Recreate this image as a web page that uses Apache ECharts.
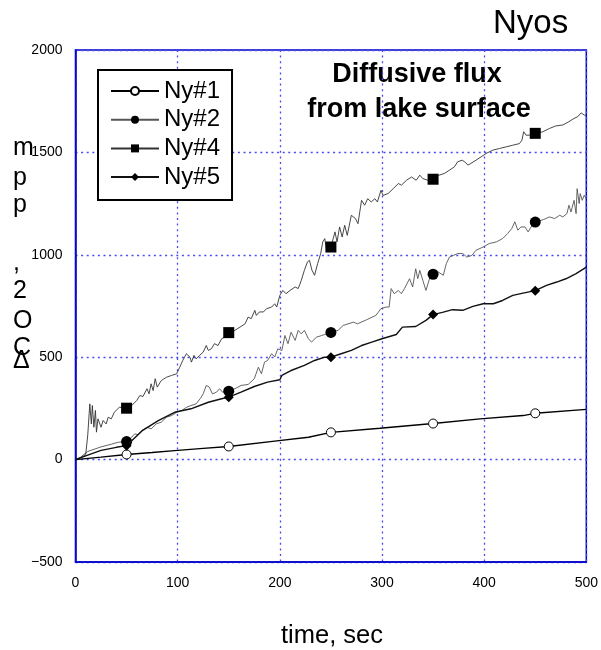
<!DOCTYPE html>
<html>
<head>
<meta charset="utf-8">
<script src="https://cdn.jsdelivr.net/npm/echarts@6/dist/echarts.min.js"></script>
<style>
  html, body { margin: 0; padding: 0; background: #fff; }
  #main { width: 601px; height: 650px; }
</style>
</head>
<body>
<div id="main"></div>
<script>
// marker positions (sec) and the four runs, [time, dCO2 ppm]
var markerTimes = [50, 150, 250, 350, 450];
var yTicks = [-500, 0, 500, 1000, 1500, 2000];

var ny1 = [[0,0],[10,5],[25,12],[50,25],[75,35],[97,44],[125,55],[150,64],[195,90],[228,109],[250,133],
  [298,153],[350,176],[396,199],[438,215],[450,226],[500,245]];

var ny2 = [[0,0],[5,12],[12,40],[25,62],[35,75],[42,85],[50,88],[55,109],[58,126],[61,122],[65,142],[70,158],
  [74,150],[79,174],[84,183],[89,207],[94,215],[99,231],[104,240],[109,256],[113,264],[118,272],[122,297],
  [125,321],[128,362],[131,354],[134,321],[138,329],[141,346],[144,329],[150,334],[156,346],[162,362],
  [169,367],[175,395],[179,451],[182,419],[185,476],[188,484],[192,517],[195,501],[198,541],[202,533],
  [205,606],[208,566],[211,622],[215,582],[218,631],[221,614],[224,631],[228,590],[231,574],[236,598],
  [241,606],[244,611],[250,621],[257,631],[262,655],[272,671],[276,663],[285,683],[294,704],[299,737],
  [304,745],[307,745],[309,835],[312,810],[316,826],[319,810],[322,835],[327,883],[330,843],[333,932],
  [335,883],[337,924],[340,875],[343,826],[347,891],[350,905],[355,916],[360,900],[363,957],[366,989],
  [370,997],[374,1006],[379,1006],[383,989],[388,997],[392,1022],[399,1038],[405,1055],[412,1063],
  [418,1079],[423,1104],[427,1128],[430,1161],[433,1120],[436,1136],[440,1136],[443,1112],[446,1136],
  [450,1160],[458,1172],[464,1185],[469,1177],[474,1193],[477,1185],[481,1201],[483,1242],[485,1209],
  [488,1266],[490,1201],[491,1323],[493,1250],[494,1299],[496,1266],[498,1291],[500,1274]];

var ny4 = [[0,0],[5,8],[10,25],[12,120],[14,272],[15.5,174],[16.5,264],[18,158],[19.5,240],[20.5,134],
  [22,199],[25,158],[27,191],[30,174],[32,207],[35,199],[38,231],[43,256],[50,251],[55,264],[60,289],
  [63,313],[66,308],[70,346],[72,321],[74,370],[76,337],[78,395],[80,354],[84,386],[89,402],[94,411],
  [99,419],[102,451],[105,484],[108.5,517],[112,500],[113.5,476],[116,509],[118,492],[121.5,509],
  [125,525],[128,557],[130,533],[133,541],[136,566],[139.5,557],[143,590],[146,598],[150,620],[156,631],
  [161,647],[166,663],[169,696],[172,688],[175.5,729],[177,704],[180,721],[184,721],[187,737],[192,745],
  [195,761],[197,745],[200,802],[203,826],[206,810],[210,826],[215,843],[218,835],[221,875],[224,924],
  [227,965],[229,973],[231.5,924],[234,900],[237,957],[240,1006],[242,1063],[244,1079],[245.5,1030],
  [250,1038],[254,1112],[256,1063],[258.5,1136],[261,1087],[263.5,1144],[266,1095],[270,1193],
  [274,1177],[276.5,1152],[280,1266],[283,1242],[286,1274],[289.5,1258],[293,1274],[295.5,1258],
  [299,1315],[301,1290],[306,1299],[311,1323],[316,1348],[319,1340],[324,1364],[329,1380],[333.5,1364],
  [337,1389],[340,1372],[345,1364],[350,1369],[356,1389],[361,1397],[366,1413],[371,1430],[374,1454],
  [378.5,1462],[381,1454],[384,1438],[387,1446],[392,1462],[397,1478],[402,1495],[408.5,1511],
  [415,1519],[421.5,1527],[428,1535],[434.5,1543],[437,1560],[438.7,1601],[441,1584],[444,1584],
  [450,1593],[457,1600],[464,1617],[470,1629],[477,1634],[483,1650],[488,1666],[491.5,1674],
  [495,1693],[498,1682],[500,1682]];

var ny5 = [[0,0],[10,18],[25,45],[40,60],[50,68],[55,92],[65,140],[81,190],[97,231],[113,248],[130,280],
  [143,297],[150,305],[162,329],[175,357],[188,378],[200,390],[202,411],[208,427],[211,435],[224,460],
  [234,484],[244,500],[250,500],[260,517],[270,533],[280,557],[290,574],[300,590],[314,611],[320,647],
  [333,650],[343,680],[350,708],[360,720],[369,732],[379,729],[389,748],[399,761],[409,761],[418,777],
  [428,802],[438,813],[450,825],[461,851],[471,867],[480,883],[490,908],[500,940]];

var seriesNames = ['Ny#1', 'Ny#2', 'Ny#4', 'Ny#5'];

// only the marker times get a symbol, the rest of the trace is plain line
function withMarkers(arr) {
  return arr.map(function (p) {
    if (markerTimes.indexOf(p[0]) >= 0) return { value: p };
    return { value: p, symbol: 'none' };
  });
}

var chart = echarts.init(document.getElementById('main'));
var font = '"Liberation Sans", Arial, sans-serif';
var gridBlue = '#4a4af0';
var frameBlue = '#0000cc';

function label(txt, x, y, size, opts) {
  opts = opts || {};
  return {
    type: 'text', x: x, y: y, silent: true,
    style: {
      text: txt, font: (opts.bold ? 'bold ' : '') + size + 'px ' + font, fill: '#000',
      align: opts.align || 'left', verticalAlign: 'middle'
    }
  };
}

// y axis name "ΔCO2, ppm": upright characters stacked bottom to top (y = middle)
var yName = [['m', 148], ['p', 178], ['p', 205], [',', 263], ['2', 291], ['O', 321], ['C', 348], ['\u0394', 361]];
var graphics = yName.map(function (c) { return label(c[0], 13, c[1], 25); });
graphics.push(label('Diffusive flux', 417, 75, 27, { bold: true, align: 'center' }));
graphics.push(label('from lake surface', 419, 110, 27, { bold: true, align: 'center' }));
graphics.push(label('Nyos', 493, 24, 33));
graphics.push(label('time, sec', 332, 636, 25.5, { align: 'center' }));

chart.setOption({
  animation: false,
  textStyle: { fontFamily: font },
  grid: {
    left: 75.5, right: 14, top: 50, bottom: 88,
    show: true, borderColor: frameBlue, borderWidth: 1.5, backgroundColor: 'transparent'
  },
  legend: {
    orient: 'vertical',
    left: 98, top: 70,
    data: seriesNames,
    itemWidth: 48, itemHeight: 10,
    itemGap: 4.7,
    padding: [9, 12, 11, 12],
    borderColor: '#000', borderWidth: 2,
    backgroundColor: '#fff',
    textStyle: { fontSize: 24, color: '#000', fontFamily: font }
  },
  xAxis: {
    type: 'value', min: 0, max: 500, interval: 100,
    axisLine: { show: true, onZero: false, lineStyle: { color: frameBlue, width: 1.5 } },
    axisTick: { show: false },
    axisLabel: { color: '#000', fontSize: 14, margin: 14 },
    splitLine: { show: true, lineStyle: { color: gridBlue, width: 1.3, type: [2, 3.6] } }
  },
  yAxis: {
    type: 'value', min: -500, max: 2000, interval: 500,
    axisLine: { show: true, onZero: false, lineStyle: { color: frameBlue, width: 1.5 } },
    axisTick: { show: false },
    axisLabel: {
      color: '#000', fontSize: 14, margin: 13,
      formatter: function (v) { return yTicks.indexOf(v) >= 0 ? String(v).replace('-', '\u2212') : ''; }
    },
    splitLine: { show: true, lineStyle: { color: gridBlue, width: 1.3, type: [2, 3.6] } }
  },
  graphic: graphics,
  series: [
    {
      name: 'Ny#1', type: 'line', data: withMarkers(ny1), z: 4,
      symbol: 'circle', symbolSize: 9, showSymbol: true,
      lineStyle: { color: '#000', width: 1.4 },
      itemStyle: { color: '#fff', borderColor: '#000', borderWidth: 1 }
    },
    {
      name: 'Ny#2', type: 'line', data: withMarkers(ny2), z: 3,
      symbol: 'circle', symbolSize: 11, showSymbol: true,
      lineStyle: { color: '#555', width: 0.9 },
      itemStyle: { color: '#000', borderWidth: 0 }
    },
    {
      name: 'Ny#4', type: 'line', data: withMarkers(ny4), z: 3,
      symbol: 'rect', symbolSize: 11, showSymbol: true,
      lineStyle: { color: '#333', width: 0.9 },
      itemStyle: { color: '#000', borderWidth: 0 }
    },
    {
      name: 'Ny#5', type: 'line', data: withMarkers(ny5), z: 4,
      symbol: 'diamond', symbolSize: 10, showSymbol: true,
      lineStyle: { color: '#111', width: 1.4 },
      itemStyle: { color: '#000', borderWidth: 0 }
    }
  ]
});
</script>
</body>
</html>
